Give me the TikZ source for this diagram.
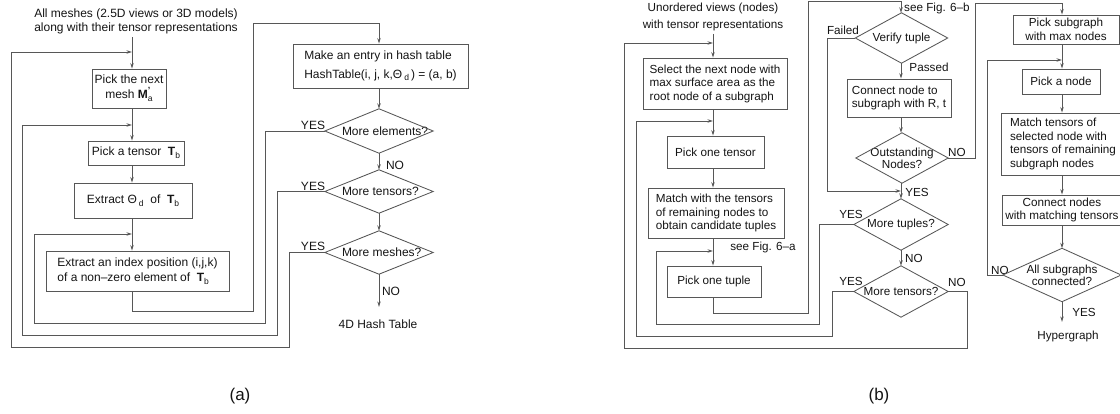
\documentclass[tikz,border=0pt]{standalone}
\usepackage{fontspec}
\setmainfont{Liberation Sans}
\usetikzlibrary{arrows.meta}

\newcommand\fsa{\fontsize{12}{13.5}\selectfont}
\newcommand\fsb{\fontsize{11.7}{13.5}\selectfont}
\newcommand\subtxt[1]{\raisebox{-0.45ex}{\fontsize{8.5}{9}\selectfont #1}}
\newcommand\tensT{\textbf{T}\subtxt{b}}
\newcommand\thetaD{Θ\,\subtxt{d}}
\newcommand\meshM{\textbf{M}\rlap{\raisebox{0.85ex}{\fontsize{9}{9}\selectfont\textbf{'}}}\subtxt{a}}
% decision text starting at a fixed offset from the left corner
\newcommand\dtext[1]{\makebox[74pt][l]{#1}}

\tikzset{
  ln/.style={draw=black!66, line width=0.85pt},
  arr/.style={ln, -{Stealth[length=5.5pt,width=3.4pt]}},
  box/.style={draw=black!66, line width=0.85pt, rectangle, inner sep=0pt, text=black!92},
  dmd/.style={rectangle, inner sep=0pt, text=black!92},
  lbl/.style={inner sep=0pt, text=black!92},
}

\begin{document}
\begin{tikzpicture}[x=1pt,y=-1pt]
\useasboundingbox (0,0) rectangle (1120,414);
\clip (0,0) rectangle (1120,414);

% ---------------- panel (a): building the 4D hash table ----------------
\begin{scope}[font=\fsa]
\coordinate (ca) at (132,0);
\coordinate (cb) at (379,0);

\node[lbl, align=center] (ta) at (136,21.5)
  {All meshes (2.5D views or 3D models)\\along with their tensor representations};

\node[box, minimum width=74pt, minimum height=39pt, align=center] (A1) at (129,88.5)
  {Pick the next\\[1.5pt]mesh \meshM};
\node[box, minimum width=96pt, minimum height=24pt, align=center] (A2) at (136,153)
  {Pick a tensor\ \ \tensT};
\node[box, minimum width=118pt, minimum height=35pt, align=center] (A3) at (133,200.5)
  {Extract \thetaD\ \ of \ \tensT};
\node[box, minimum width=183pt, minimum height=40pt, align=left] (A4) at (137.5,271)
  {Extract an index position (i,j,k)\\[2pt]of a non–zero element of \ \tensT};
\node[box, minimum width=175pt, minimum height=44pt, align=left] (A5) at (380.5,66)
  {Make an entry in hash table\\[5pt]HashTable(i, j, k,\thetaD\,) = (a, b)};

\node[dmd, minimum width=108pt, minimum height=44pt] (D1) at (379,131) {\dtext{More elements?}};
\node[dmd, minimum width=108pt, minimum height=43pt] (D2) at (379,191.5) {\dtext{More tensors?}};
\node[dmd, minimum width=108pt, minimum height=43pt] (D3) at (379,252.5) {\dtext{More meshes?}};

\node[lbl] (endA) at (378,324) {4D Hash Table};

\node[lbl] (ya1) at (313,125) {YES};
\node[lbl] (ya2) at (313,186) {YES};
\node[lbl] (ya3) at (313,246) {YES};
\node[lbl] (na1) at (395,165) {NO};
\node[lbl] (na2) at (391,291) {NO};

% junctions on the main column
\coordinate (ja1) at (132,52);
\coordinate (ja2) at (132,125);
\coordinate (ja3) at (132,234);

\draw[arr] ([yshift=-3pt]ta.south -| ca) -- (A1.north -| ca);
\draw[arr] (A1.south -| ca) -- (A2.north -| ca);
\draw[arr] (A2.south -| ca) -- (A3.north -| ca);
\draw[arr] (A3.south -| ca) -- (A4.north -| ca);
\draw[arr] (A4.south -| ca) |- (253,311) -- (253,23) -| (A5.north -| cb);
\draw[arr] (A5.south -| cb) -- (D1.north);
\draw[arr] (D1.south) -- (D2.north);
\draw[arr] (D2.south) -- (D3.north);
\draw[arr, shorten >=12.5pt] (D3.south) -- (endA.north -| cb);

\draw[arr] (D1.west) -| (265,323) -| (34,234) -- (ja3);
\draw[arr] (D2.west) -| (277,335) -| (22,125) -- (ja2);
\draw[arr] (D3.west) -| (289,347) -| (11,52) -- (ja1);

\node[font=\fontsize{17}{20}\selectfont, lbl] (capa) at (240,396) {(a)};
\end{scope}

% ---------------- panel (b): building the hypergraph ----------------
\begin{scope}[font=\fsb]
\coordinate (cB) at (713,0);
\coordinate (cB2) at (901,0);
\coordinate (cB3) at (1062,0);

\node[lbl, align=center] (tb) at (713,17)
  {Unordered views (nodes)\\[3pt]with tensor representations};

\node[box, minimum width=144pt, minimum height=51pt, align=left] (B1) at (715,83.5)
  {Select the next node with\\max surface area as the\\root node of a subgraph};
\node[box, minimum width=97pt, minimum height=32pt, align=center] (B2) at (715.5,152) {Pick one tensor};
\node[box, minimum width=136pt, minimum height=50pt, align=left] (B3) at (716,213)
  {Match with the tensors\\of remaining nodes to\\obtain candidate tuples};
\node[box, minimum width=94pt, minimum height=31pt, align=center] (B4) at (714,281.5) {Pick one tuple};

\node[dmd, minimum width=92pt, minimum height=50pt, align=center] (V) at (901.5,38) {Verify tuple};
\node[box, minimum width=104pt, minimum height=38pt, align=left] (C) at (899,98)
  {Connect node to\\subgraph with R, t};
\node[dmd, minimum width=92pt, minimum height=50pt, align=center] (O) at (902,158)
  {Outstanding\\[-1.5pt]Nodes?};
\node[dmd, minimum width=94pt, minimum height=51pt, align=center] (T) at (901,224.5) {More tuples?};
\node[dmd, minimum width=94pt, minimum height=51pt, align=center] (M) at (901,291.5) {More tensors?};

\node[box, minimum width=106pt, minimum height=29pt, align=center] (P1) at (1066,29.5)
  {Pick subgraph\\with max nodes};
\node[box, minimum width=78pt, minimum height=25pt, align=center] (P2) at (1061,81.5) {Pick a node};
\node[box, minimum width=124pt, minimum height=62pt, align=left] (P3) at (1063,144)
  {Match tensors of\\selected node with\\tensors of remaining\\subgraph nodes};
\node[box, minimum width=120pt, minimum height=30pt, align=center] (P4) at (1062,210)
  {Connect nodes\\with matching tensors};
\node[dmd, minimum width=118pt, minimum height=53pt, align=center] (AS) at (1062,275)
  {All subgraphs\\[-1.5pt]connected?};

\node[lbl] (endB) at (1068,336) {Hypergraph};

\node[lbl, anchor=west] (sfb) at (904,8) {see Fig. 6–b};
\node[lbl] (sfa) at (763,247) {see Fig. 6–a};
\node[lbl] (fl) at (843,30) {Failed};
\node[lbl] (ps) at (929,67) {Passed};
\node[lbl] (nb1) at (957,152) {NO};
\node[lbl] (yb1) at (917,192) {YES};
\node[lbl] (yb2) at (851,214) {YES};
\node[lbl] (nb2) at (914,258) {NO};
\node[lbl] (yb3) at (851,281) {YES};
\node[lbl] (nb3) at (957,282) {NO};
\node[lbl] (nb4) at (1000,270) {NO};
\node[lbl] (yb4) at (1084,312) {YES};

% junctions
\coordinate (jb1) at (713,43);
\coordinate (jb2) at (713,121);
\coordinate (jb3) at (713,251);
\coordinate (jf) at (901,191);
\coordinate (jc) at (1062,60);

\draw[arr] ([yshift=-3pt]tb.south -| cB) -- (B1.north -| cB);
\draw[arr] (B1.south -| cB) -- (B2.north -| cB);
\draw[arr] (B2.south -| cB) -- (B3.north -| cB);
\draw[arr] (B3.south -| cB) -- (B4.north -| cB);
\draw[arr] (B4.south -| cB) |- (808,313) -- (808,1) -| (V.north -| cB2);

\draw[arr] (V.south -| cB2) -- (C.north -| cB2);
\draw[arr] (C.south -| cB2) -- (O.north -| cB2);
\draw[arr] (O.south -| cB2) -- (T.north -| cB2);
\draw[arr] (T.south -| cB2) -- (M.north -| cB2);
\draw[arr] (V.west) -| (827,191) -- (jf);

\draw[arr] (T.west) -| (819,324) -| (656,251) -- (jb3);
\draw[arr] (M.west) -| (832,336) -| (636,121) -- (jb2);
\draw[arr] (M.east) -| (967,348) -| (624,43) -- (jb1);

\draw[arr] (O.east) -| (975,3) -| (P1.north -| cB3);
\draw[arr] (P1.south -| cB3) -- (P2.north -| cB3);
\draw[arr] (P2.south -| cB3) -- (P3.north -| cB3);
\draw[arr] (P3.south -| cB3) -- (P4.north -| cB3);
\draw[arr] (P4.south -| cB3) -- (AS.north);
\draw[arr] (AS.west) -| (987,60) -- (jc);
\draw[arr, shorten >=8.5pt] (AS.south) -- (endB.north -| cB3);

\node[font=\fontsize{17}{20}\selectfont, lbl] (capb) at (879,396) {(b)};
\end{scope}

% decision outlines
\foreach \d in {D1,D2,D3,V,O,T,M,AS}
  \draw[ln] (\d.north) -- (\d.east) -- (\d.south) -- (\d.west) -- cycle;
\end{tikzpicture}
\end{document}
